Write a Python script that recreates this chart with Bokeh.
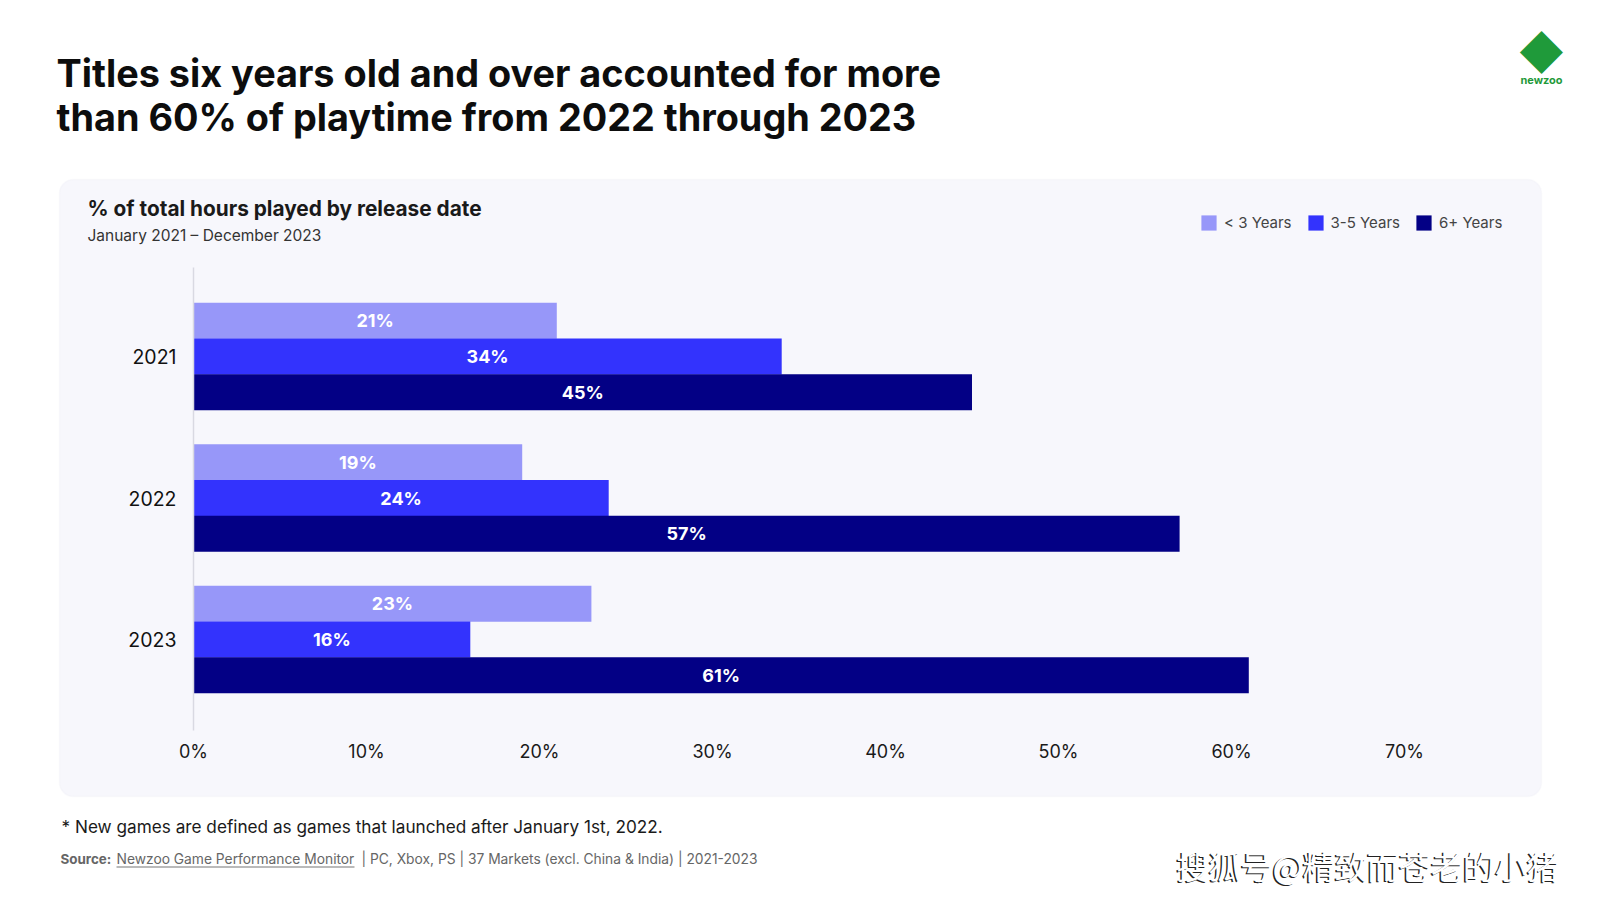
from bokeh.plotting import figure
from bokeh.models import (ColumnDataSource, Range1d, LabelSet, Label, BoxAnnotation,
                          Legend, LegendItem, FixedTicker, PrintfTickFormatter, LinearAxis)
from bokeh.core.properties import value
from bokeh.transform import dodge
from bokeh.embed import file_html
from bokeh.resources import INLINE

# ---- data ----
years = [2021, 2022, 2023]
series = ["< 3 Years", "3-5 Years", "6+ Years"]
under3 = [21, 19, 23]
three_to_five = [34, 24, 16]
six_plus = [45, 57, 61]
x_ticks = [0, 10, 20, 30, 40, 50, 60, 70]

title_lines = ["Titles six years old and over accounted for more",
               "than 60% of playtime from 2022 through 2023"]
chart_title = "% of total hours played by release date"
chart_subtitle = "January 2021 \u2013 December 2023"
footnote = "* New games are defined as games that launched after January 1st, 2022."
source_bold = "Source:"
source_link = "Newzoo Game Performance Monitor"
source_rest = "| PC, Xbox, PS | 37 Markets (excl. China & India) | 2021-2023"
watermark = "搜狐号@精致而苍老的小猪"

# ---- layout constants (pixels) ----
W, H = 1584, 892
FONT = "Inter"
colors = ["#9797f9", "#3333fd", "#030085"]
ZERO_PX = 193          # x pixel of 0%
PX_PER_PCT = 17.3      # pixels per percentage point
FIRST_CAT_PX = 356     # y pixel of first year
PX_PER_CAT = 141.5     # pixels per year slot
AXIS_TOP_PX, AXIS_BOTTOM_PX = 267, 730
BAR_H = 0.252
offsets = [-BAR_H, 0.0, BAR_H]


def ydata(px):
    return years[0] + (px - FIRST_CAT_PX) / PX_PER_CAT


x_range = Range1d(-ZERO_PX / PX_PER_PCT, (W - ZERO_PX) / PX_PER_PCT)
y_range = Range1d(ydata(H), ydata(0))   # reversed: first year at top

p = figure(width=W, height=H, x_range=x_range, y_range=y_range,
           x_axis_location=None, y_axis_location=None,
           output_backend="svg", toolbar_location=None,
           min_border=0, min_border_left=0, min_border_right=0,
           min_border_top=0, min_border_bottom=0)
p.background_fill_color = "white"
p.border_fill_color = "white"
p.outline_line_color = None
p.xgrid.visible = False
p.ygrid.visible = False


def sbox(left, right, top, bottom, **kw):
    return BoxAnnotation(left=left, right=right, top=H - top, bottom=H - bottom,
                         left_units="screen", right_units="screen",
                         top_units="screen", bottom_units="screen", **kw)


# card behind the chart
p.add_layout(sbox(59, 1541, 179, 796, fill_color="#f7f7fc", fill_alpha=1.0,
                  line_color="#efeff6", line_width=1.5, level="underlay", border_radius=14))

renderers = []
for vals, off, color in zip([under3, three_to_five, six_plus], offsets, colors):
    src = ColumnDataSource(dict(year=years, v=vals,
                                mid=[x / 2 for x in vals],
                                lab=[f"{x}%" for x in vals]))
    r = p.hbar(y=dodge("year", off), left=0, right="v",
               height=BAR_H + 0.002, fill_color=color, line_color=None, source=src)
    renderers.append(r)
    p.add_layout(LabelSet(x="mid", y=dodge("year", off), text="lab",
                          source=src, text_align="center", text_baseline="middle",
                          text_color="white", text_font=value(FONT), text_font_style="bold",
                          text_font_size="18px"))

# axes placed at fixed locations inside the frame
xaxis = LinearAxis(fixed_location=ydata(AXIS_BOTTOM_PX),
                   ticker=FixedTicker(ticks=x_ticks),
                   formatter=PrintfTickFormatter(format="%d%%"))
xaxis.axis_line_color = None
xaxis.major_tick_line_color = None
xaxis.minor_tick_line_color = None
xaxis.major_tick_out = 0
xaxis.major_tick_in = 0
xaxis.major_label_standoff = 10
xaxis.major_label_text_font = FONT
xaxis.major_label_text_font_size = "18px"
xaxis.major_label_text_color = "#1a1a1a"
p.add_layout(xaxis, "below")

yaxis = LinearAxis(fixed_location=0, ticker=FixedTicker(ticks=years),
                   formatter=PrintfTickFormatter(format="%d"),
                   bounds=(ydata(AXIS_TOP_PX), ydata(AXIS_BOTTOM_PX)))
yaxis.axis_line_color = "#d9d9e2"
yaxis.axis_line_width = 1.5
yaxis.major_tick_line_color = None
yaxis.minor_tick_line_color = None
yaxis.major_tick_out = 0
yaxis.major_tick_in = 0
yaxis.major_label_standoff = 17
yaxis.major_label_text_font = FONT
yaxis.major_label_text_font_size = "19.5px"
yaxis.major_label_text_color = "#111111"
p.add_layout(yaxis, "left")

# legend
legend = Legend(items=[LegendItem(label=s, renderers=[r]) for s, r in zip(series, renderers)],
                orientation="horizontal", location=(1199, H - 232),
                glyph_width=19, glyph_height=19, label_standoff=6, spacing=14,
                padding=0, margin=0, border_line_color=None, background_fill_alpha=0,
                label_text_font=FONT, label_text_font_size="15px", label_text_color="#444444")
p.add_layout(legend)


def lab(text, x, y, size, color="#111111", style="normal", font=FONT, align="left"):
    p.add_layout(Label(x=x, y=H - y, x_units="screen", y_units="screen", text=text,
                       text_font=font, text_font_size=size, text_color=color,
                       text_font_style=style, text_baseline="middle", text_align=align))


# headline
lab(title_lines[0], 56, 72, "37.8px", "#0d0d0d", "bold")
lab(title_lines[1], 56, 116, "37.8px", "#0d0d0d", "bold")
# chart title
lab(chart_title, 87, 208, "20.8px", "#1a1a1a", "bold")
lab(chart_subtitle, 87, 235, "15.5px", "#333333")
# footer
lab(footnote, 61, 825.5, "17.2px", "#1a1a1a")
lab(source_bold, 60, 858, "13.4px", "#666666", "bold")
lab(source_link, 116, 858, "13.8px", "#666666")
lab(source_rest, 361, 858, "13.8px", "#666666")
p.add_layout(sbox(116, 354, 866, 867, fill_color="#777777", fill_alpha=1.0, line_color=None))
# watermark
lab(watermark, 1174.5, 865.5, "32px", "#222222", font="Noto Sans CJK SC")
lab(watermark, 1176, 864, "32px", "#ffffff", font="Noto Sans CJK SC")
# logo
lab("\u25C6", 1541, 52, "45px", "#1f9a3a", align="center")
lab("newzoo", 1541, 79, "11px", "#1f9a3a", "bold", align="center")

open("out.html", "w").write(file_html(p, INLINE, title="Newzoo playtime"))
